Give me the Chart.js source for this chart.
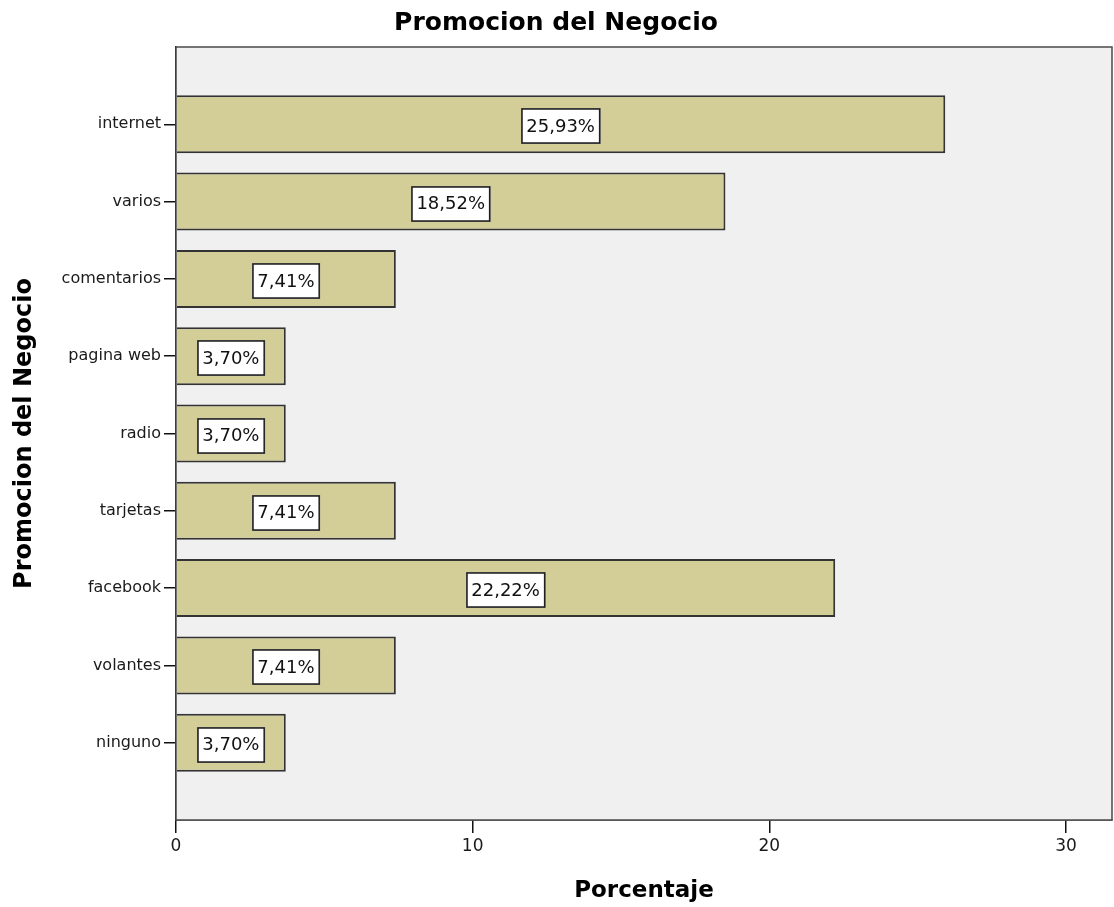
<!DOCTYPE html>
<html>
<head>
<meta charset="utf-8">
<script src="https://cdn.jsdelivr.net/npm/chart.js@4/dist/chart.umd.min.js"></script>
<style>
  html, body { margin: 0; padding: 0; background: #fff; }
</style>
</head>
<body>
<canvas id="chart" width="1114" height="907"></canvas>
<script>
const categories = ["internet", "varios", "comentarios", "pagina web", "radio", "tarjetas", "facebook", "volantes", "ninguno"];
const percentages = [25.93, 18.52, 7.41, 3.70, 3.70, 7.41, 22.22, 7.41, 3.70];
const xTicks = [0, 10, 20, 30];

const FONT = "'DejaVu Sans', Verdana, sans-serif";

const fmt = v => v.toFixed(2).replace(".", ",") + "%";

// grey panel behind the bars plus its outline
const plotFrame = {
  id: "plotFrame",
  beforeDatasetsDraw(chart) {
    const { ctx, chartArea: a } = chart;
    ctx.save();
    ctx.fillStyle = "#f0f0f0";
    ctx.fillRect(a.left, a.top, a.right - a.left, a.bottom - a.top);
    ctx.restore();
  },
  afterDraw(chart) {
    const { ctx, chartArea: a } = chart;
    ctx.save();
    ctx.strokeStyle = "#4a4a4a";
    ctx.lineWidth = 1.5;
    ctx.strokeRect(a.left, a.top, a.right - a.left, a.bottom - a.top);
    ctx.restore();
  }
};

// white boxed percentage in the middle of each bar
const valueBoxes = {
  id: "valueBoxes",
  afterDatasetsDraw(chart) {
    const { ctx, scales } = chart;
    ctx.save();
    ctx.font = "18px " + FONT;
    ctx.textAlign = "center";
    ctx.textBaseline = "middle";
    percentages.forEach((v, i) => {
      const cx = scales.x.getPixelForValue(v / 2);
      const cy = scales.y.getPixelForValue(i) + 2;
      const txt = fmt(v);
      const w = ctx.measureText(txt).width + 9;
      const h = 34;
      const x = Math.round(cx - w / 2), y = Math.round(cy - h / 2);
      ctx.fillStyle = "#8a8a8a";
      ctx.fillRect(x - 1, y - 1, w + 2, h + 2);
      ctx.fillStyle = "#ffffff";
      ctx.fillRect(x, y, w, h);
      ctx.strokeStyle = "#1e1e1e";
      ctx.lineWidth = 1.5;
      ctx.strokeRect(x, y, w, h);
      ctx.fillStyle = "#111";
      ctx.fillText(txt, cx, cy + 1);
    });
    ctx.restore();
  }
};

new Chart(document.getElementById("chart"), {
  type: "bar",
  data: {
    datasets: [{
      label: "Porcentaje",
      data: percentages.map((v, i) => ({ x: v, y: i })),
      backgroundColor: "#d3cd98",
      borderColor: "#333333",
      borderWidth: 2,
      barPercentage: 0.75,
      categoryPercentage: 1
    }]
  },
  options: {
    indexAxis: "y",
    responsive: false,
    animation: false,
    layout: { padding: { right: 2 } },
    plugins: {
      legend: { display: false },
      tooltip: { enabled: false },
      title: {
        display: true,
        text: "Promocion del Negocio",
        color: "#000",
        font: { family: FONT, size: 25, weight: "bold" },
        padding: { top: 8, bottom: 9 }
      }
    },
    scales: {
      x: {
        type: "linear",
        min: 0,
        max: 31.55,
        afterBuildTicks: s => { s.ticks = xTicks.map(v => ({ value: v })); },
        afterFit: s => { s.height = 87; },
        ticks: { color: "#1a1a1a", font: { family: FONT, size: 17 }, padding: 3 },
        grid: { drawOnChartArea: false, tickLength: 13, color: "#111", lineWidth: 1.5 },
        border: { color: "#111", width: 1.5 },
        title: {
          display: true,
          text: "Porcentaje",
          color: "#000",
          font: { family: FONT, size: 23, weight: "bold" },
          padding: { bottom: 2 }
        }
      },
      y: {
        type: "linear",
        reverse: true,
        offset: false,
        min: -1,
        max: 9,
        afterBuildTicks: s => { s.ticks = categories.map((c, i) => ({ value: i })); },
        afterFit: s => { s.width = 176; },
        ticks: {
          color: "#1a1a1a",
          font: { family: FONT, size: 16 },
          padding: 3,
          callback: v => categories[v]
        },
        grid: { offset: false, drawOnChartArea: false, tickLength: 12, color: "#111", lineWidth: 1.5 },
        border: { color: "#111", width: 1.5 },
        title: {
          display: true,
          text: "Promocion del Negocio",
          color: "#000",
          font: { family: FONT, size: 24, weight: "bold" },
          padding: { top: 10 }
        }
      }
    }
  },
  plugins: [plotFrame, valueBoxes]
});
</script>
</body>
</html>
